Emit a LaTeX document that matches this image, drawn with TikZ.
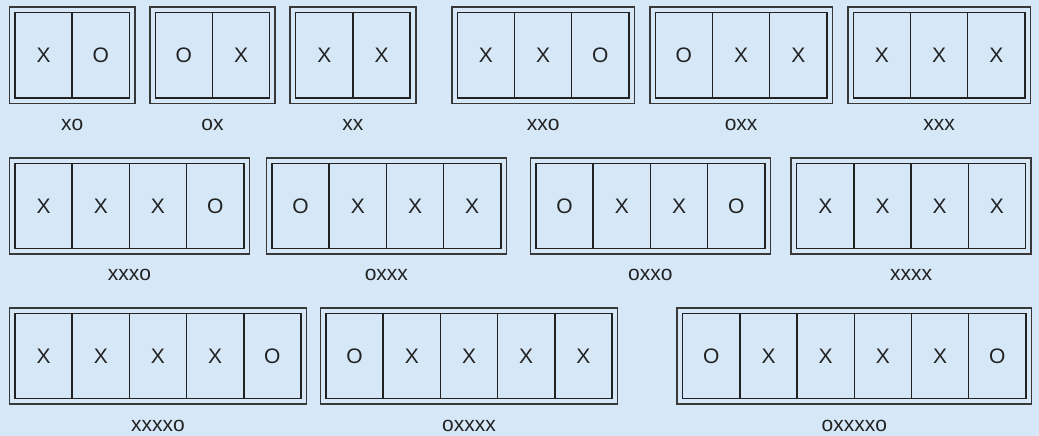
\documentclass[tikz,border=0pt]{standalone}
\usepackage{fontspec}
\setmainfont{Liberation Sans}
\usetikzlibrary{calc,positioning,fit}

\definecolor{paper}{RGB}{214,232,248}
\definecolor{ink}{RGB}{34,34,34}

\tikzset{
  cellbox/.style={draw=ink,line width=1.5pt,minimum width=57.2pt,minimum height=85.3pt,
    inner sep=0pt,outer sep=0pt,anchor=north west,text=ink,font=\fontsize{21}{25}\selectfont},
  framebox/.style={draw=black!78,line width=1.7pt,inner sep=5.6pt},
  tag/.style={text=ink,inner sep=0pt,font=\fontsize{21}{25}\selectfont}
}

% #1 name, #2 left x, #3 top y, #4 number of cells, #5 marks, #6 caption
\newcommand{\tape}[6]{%
  \foreach \m [count=\i] in {#5}
    \node[cellbox] (#1-\i) at ({#2+(\i-1)*57.2},#3) {\m};
  \node[framebox,fit=(#1-1)(#1-#4)] (#1-frame) {};
  \node[tag] (#1-cap) at ($(#1-frame.south)+(0,20.4)$) {#6};
}

\begin{document}
\begin{tikzpicture}[x=1pt,y=-1pt]
\fill[paper] (0,0) rectangle (1039,436);
\useasboundingbox (0,0) rectangle (1039,436);

% first row
\tape{xo}{15}{12.7}{2}{X,O}{xo}
\tape{ox}{155.3}{12.7}{2}{O,X}{ox}
\tape{xx}{295.7}{12.7}{2}{X,X}{xx}
\tape{xxo}{457.3}{12.7}{3}{X,X,O}{xxo}
\tape{oxx}{655.3}{12.7}{3}{O,X,X}{oxx}
\tape{xxx}{853.3}{12.7}{3}{X,X,X}{xxx}

% second row
\tape{xxxo}{15}{163.3}{4}{X,X,X,O}{xxxo}
\tape{oxxx}{272}{163.3}{4}{O,X,X,X}{oxxx}
\tape{oxxo}{536}{163.3}{4}{O,X,X,O}{oxxo}
\tape{xxxx}{796.7}{163.3}{4}{X,X,X,X}{xxxx}

% third row
\tape{xxxxo}{15}{313.3}{5}{X,X,X,X,O}{xxxxo}
\tape{oxxxx}{326}{313.3}{5}{O,X,X,X,X}{oxxxx}
\tape{oxxxxo}{682.7}{313.3}{6}{O,X,X,X,X,O}{oxxxxo}
\end{tikzpicture}
\end{document}
